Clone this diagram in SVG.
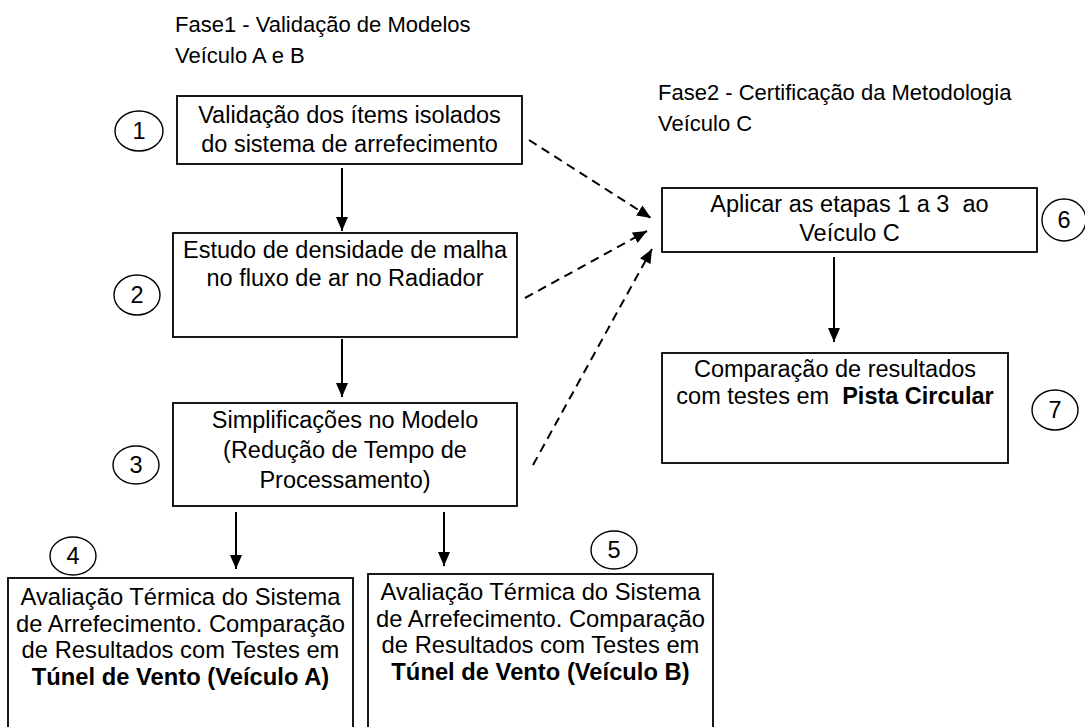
<svg xmlns="http://www.w3.org/2000/svg" width="1085" height="727" viewBox="0 0 1085 727">
<style>
.box{fill:#fff;stroke:#000;stroke-width:1.8}
.circ{fill:#fff;stroke:#000;stroke-width:1.4}
text{font-family:"Liberation Sans",Arial,sans-serif;font-size:23.5px;fill:#000}
.h{font-size:22px}
.c{text-anchor:middle}
.bt{font-size:24.5px;text-anchor:middle}
.b{font-weight:bold}
.solid{stroke:#000;stroke-width:2;fill:none}
.dash{stroke:#000;stroke-width:2;fill:none;stroke-dasharray:9 6}
</style>
<defs>
<marker id="ah" viewBox="0 0 14 12" refX="14" refY="6" markerWidth="14" markerHeight="12" markerUnits="userSpaceOnUse" orient="auto">
<path d="M0,0 L14,6 L0,12 z" fill="#000"/>
</marker>
</defs>

<g id="headings">
<text class="h" x="175" y="32">Fase1 - Validação de Modelos</text>
<text class="h" x="175" y="63">Veículo A e B</text>
<text class="h" x="658" y="100">Fase2 - Certificação da Metodologia</text>
<text class="h" x="658" y="131">Veículo C</text>
</g>

<g id="connectors">
<line class="solid" x1="342" y1="168" x2="342" y2="231" marker-end="url(#ah)"/>
<line class="solid" x1="342" y1="339" x2="342" y2="397" marker-end="url(#ah)"/>
<line class="solid" x1="236" y1="512" x2="236" y2="569" marker-end="url(#ah)"/>
<line class="solid" x1="444" y1="512" x2="444" y2="566" marker-end="url(#ah)"/>
<line class="solid" x1="834" y1="257" x2="834" y2="342" marker-end="url(#ah)"/>
<line class="dash" x1="529" y1="140" x2="651" y2="218" marker-end="url(#ah)"/>
<line class="dash" x1="525" y1="298" x2="647" y2="231" marker-end="url(#ah)"/>
<line class="dash" x1="533" y1="465" x2="652" y2="249" marker-end="url(#ah)"/>
</g>

<g id="node1">
<rect class="box" x="177" y="96" width="345" height="68"/>
<text class="c" x="349.5" y="123">Validação dos ítems isolados</text>
<text class="c" x="349.5" y="152">do sistema de arrefecimento</text>
</g>
<g id="node2">
<rect class="box" x="173" y="233" width="344" height="104"/>
<text class="c" x="345" y="258">Estudo de densidade de malha</text>
<text class="c" x="345" y="286">no fluxo de ar no Radiador</text>
</g>
<g id="node3">
<rect class="box" x="173" y="403" width="344" height="103"/>
<text class="c" x="345" y="428">Simplificações no Modelo</text>
<text class="c" x="345" y="458">(Redução de Tempo de</text>
<text class="c" x="345" y="488">Processamento)</text>
</g>
<g id="node4">
<rect class="box" x="8" y="578" width="345" height="170"/>
<g transform="translate(180.5,0) scale(0.97,1)">
<text class="bt" x="0" y="605">Avaliação Térmica do Sistema</text>
<text class="bt" x="0" y="632">de Arrefecimento. Comparação</text>
<text class="bt" x="0" y="658">de Resultados com Testes em</text>
<text class="bt b" x="0" y="685">Túnel de Vento (Veículo A)</text>
</g>
</g>
<g id="node5">
<rect class="box" x="368" y="574" width="345" height="170"/>
<g transform="translate(540.5,0) scale(0.97,1)">
<text class="bt" x="0" y="600">Avaliação Térmica do Sistema</text>
<text class="bt" x="0" y="627">de Arrefecimento. Comparação</text>
<text class="bt" x="0" y="653">de Resultados com Testes em</text>
<text class="bt b" x="0" y="680">Túnel de Vento (Veículo B)</text>
</g>
</g>
<g id="node6">
<rect class="box" x="662" y="188" width="375" height="64"/>
<text class="c" x="849.5" y="212" xml:space="preserve">Aplicar as etapas 1 a 3  ao</text>
<text class="c" x="849.5" y="241">Veículo C</text>
</g>
<g id="node7">
<rect class="box" x="662" y="353" width="346" height="110"/>
<text class="c" x="835" y="377">Comparação de resultados</text>
<text class="c" x="835" y="404" xml:space="preserve">com testes em  <tspan class="b">Pista Circular</tspan></text>
</g>

<g id="badge1"><ellipse class="circ" cx="139" cy="131" rx="24" ry="20"/><text class="c" x="139" y="139">1</text></g>
<g id="badge2"><ellipse class="circ" cx="137" cy="295" rx="23" ry="20"/><text class="c" x="137" y="303">2</text></g>
<g id="badge3"><ellipse class="circ" cx="136" cy="465" rx="23" ry="19"/><text class="c" x="136" y="473">3</text></g>
<g id="badge4"><ellipse class="circ" cx="73" cy="556" rx="23" ry="19"/><text class="c" x="73" y="564">4</text></g>
<g id="badge5"><ellipse class="circ" cx="614" cy="550" rx="23" ry="19"/><text class="c" x="614" y="558">5</text></g>
<g id="badge6"><ellipse class="circ" cx="1064" cy="220" rx="22" ry="21"/><text class="c" x="1064" y="228">6</text></g>
<g id="badge7"><ellipse class="circ" cx="1055" cy="410" rx="23" ry="20"/><text class="c" x="1055" y="418">7</text></g>
</svg>
